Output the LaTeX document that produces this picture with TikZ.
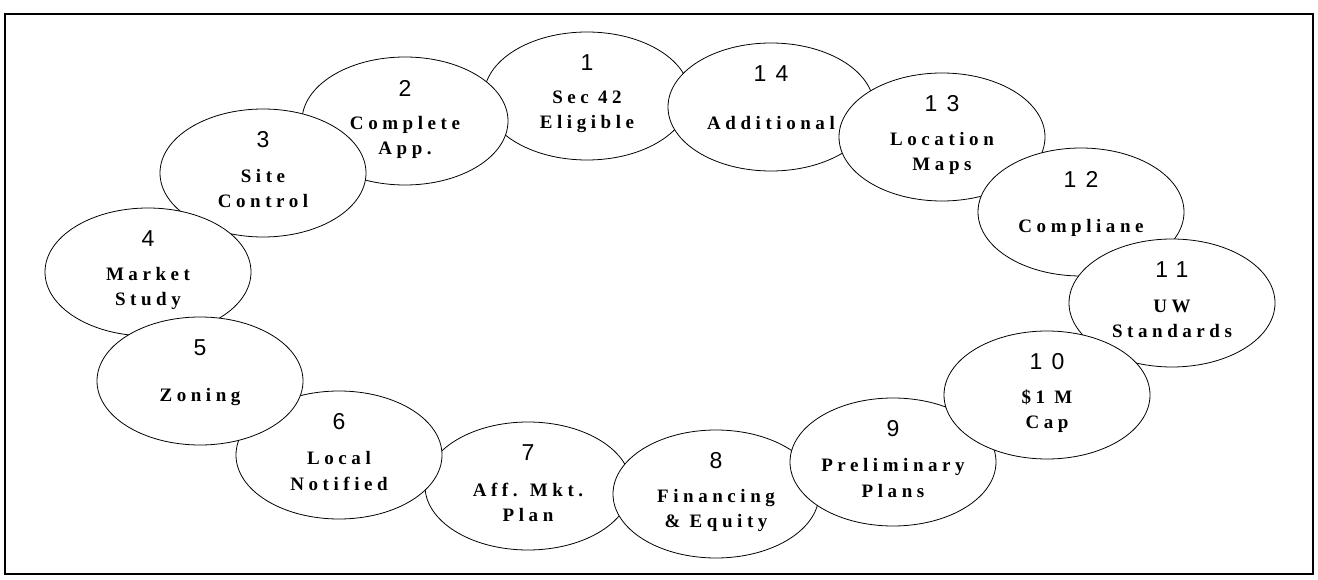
\documentclass[tikz,border=0pt]{standalone}
\usepackage{fontspec}
\usetikzlibrary{shapes.geometric}
\newfontfamily\numfont[LetterSpace=40]{Liberation Sans}
\newfontfamily\labfont[LetterSpace=24]{Liberation Serif}
\tikzset{
  oval/.style={ellipse, draw=black, fill=white, line width=0.8pt,
    minimum width=206pt, minimum height=128pt, inner sep=0pt},
  num/.style={font=\numfont\fontsize{23}{26}\selectfont, inner sep=0pt},
  lab/.style={font=\labfont\bfseries\fontsize{19}{25}\selectfont, align=center, inner sep=0pt},
  frame/.style={line width=2.5pt, draw=black}
}
\newcommand{\stepoval}[4]{%
  \node[oval] (e#1) at (#2) {};
  \node[num] (n#1) at ([yshift=33pt]e#1.center) {#3};
  \node[lab] (t#1) at ([yshift=-16pt]e#1.center) {#4};
}
\begin{document}
\begin{tikzpicture}[x=1pt,y=-1pt]
\useasboundingbox (0,0) rectangle (1318,580);
\fill[white] (0,0) rectangle (1318,580);
\coordinate (fa) at (5,14);
\coordinate (fb) at (1313,574);
\draw[frame] (fa) rectangle (fb);
\stepoval{1}{587,96}{1}{Sec 42\\Eligible}
\stepoval{14}{771,107}{14}{Additional}
\stepoval{13}{942,137}{13}{Location\\Maps}
\stepoval{12}{1081,212}{12}{Compliane}
\stepoval{11}{1172,303}{11}{UW\\Standards}
\stepoval{2}{405,121}{2}{Complete\\App.}
\stepoval{3}{263,173}{3}{Site\\Control}
\stepoval{4}{148,272}{4}{Market\\Study}
\stepoval{7}{528,486}{7}{Aff. Mkt.\\Plan}
\stepoval{6}{339,455}{6}{Local\\Notified}
\stepoval{5}{200,381}{5}{Zoning}
\stepoval{8}{716,494}{8}{Financing\\\& Equity}
\stepoval{9}{893,462}{9}{Preliminary\\Plans}
\stepoval{10}{1047,395}{10}{\$1 M\\Cap}
\end{tikzpicture}
\end{document}
